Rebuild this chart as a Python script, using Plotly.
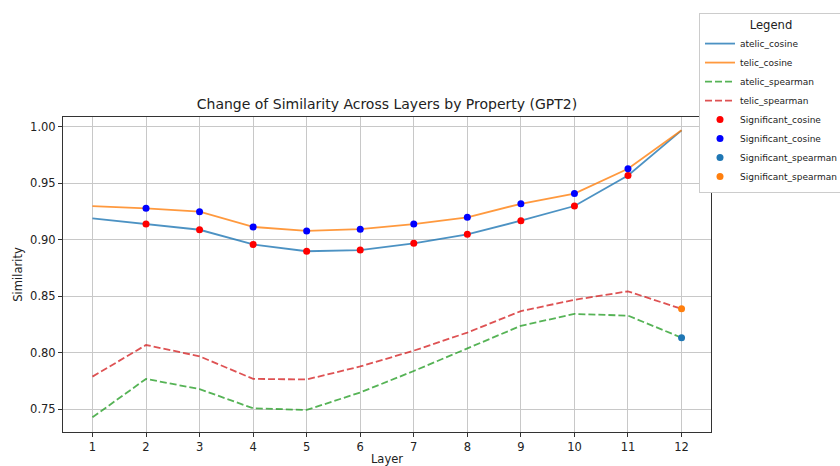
import plotly.graph_objects as go

layers = list(range(1, 13))
atelic_cosine = [0.919, 0.914, 0.909, 0.896, 0.890, 0.891, 0.897, 0.905, 0.917, 0.930, 0.957, 0.997]
telic_cosine = [0.930, 0.928, 0.925, 0.9115, 0.908, 0.9095, 0.914, 0.920, 0.932, 0.941, 0.963, 0.997]
atelic_spearman = [0.743, 0.777, 0.768, 0.751, 0.7495, 0.765, 0.784, 0.804, 0.824, 0.8345, 0.833, 0.8135]
telic_spearman = [0.779, 0.807, 0.797, 0.777, 0.7765, 0.788, 0.802, 0.818, 0.837, 0.847, 0.8545, 0.839]

sig_cosine_layers = [2, 3, 4, 5, 6, 7, 8, 9, 10, 11]
sig_spearman_layers = [12]

FONT = "DejaVu Sans"

def pick(values, sel):
    return [values[layers.index(l)] for l in sel]

fig = go.Figure()
fig.add_trace(go.Scatter(x=layers, y=atelic_cosine, mode="lines", name="atelic_cosine",
                         line=dict(color="rgba(31,119,180,0.8)", width=1.8)))
fig.add_trace(go.Scatter(x=layers, y=telic_cosine, mode="lines", name="telic_cosine",
                         line=dict(color="rgba(255,127,14,0.8)", width=1.8)))
fig.add_trace(go.Scatter(x=layers, y=atelic_spearman, mode="lines", name="atelic_spearman",
                         line=dict(color="rgba(44,160,44,0.8)", width=1.8, dash="7px,3px")))
fig.add_trace(go.Scatter(x=layers, y=telic_spearman, mode="lines", name="telic_spearman",
                         line=dict(color="rgba(214,39,40,0.8)", width=1.8, dash="7px,3px")))
fig.add_trace(go.Scatter(x=sig_cosine_layers, y=pick(atelic_cosine, sig_cosine_layers), mode="markers",
                         name="Significant_cosine", marker=dict(color="red", size=7)))
fig.add_trace(go.Scatter(x=sig_cosine_layers, y=pick(telic_cosine, sig_cosine_layers), mode="markers",
                         name="Significant_cosine", marker=dict(color="blue", size=7)))
fig.add_trace(go.Scatter(x=sig_spearman_layers, y=pick(atelic_spearman, sig_spearman_layers), mode="markers",
                         name="Significant_spearman", marker=dict(color="#1f77b4", size=7)))
fig.add_trace(go.Scatter(x=sig_spearman_layers, y=pick(telic_spearman, sig_spearman_layers), mode="markers",
                         name="Significant_spearman", marker=dict(color="#ff7f0e", size=7)))

axis_common = dict(showgrid=True, gridcolor="#c8c8c8", gridwidth=1, showline=True, linecolor="#333",
                   linewidth=1, mirror=True, ticks="outside", ticklen=4, tickcolor="#333",
                   tickfont=dict(family=FONT, size=11.5, color="#222"), zeroline=False)

fig.update_layout(
    width=840, height=466,
    margin=dict(l=63, r=129, t=117, b=34, autoexpand=False),
    paper_bgcolor="white", plot_bgcolor="white",
    title=dict(text="Change of Similarity Across Layers by Property (GPT2)", x=(63 + 711) / 2 / 840,
               xanchor="center", y=1 - 104 / 466, yanchor="middle",
               font=dict(family=FONT, size=14, color="#222")),
    xaxis=dict(range=[0.45, 12.55], tickvals=layers, title=dict(text="Layer", standoff=10,
               font=dict(family=FONT, size=11.5, color="#222")), **axis_common),
    yaxis=dict(range=[0.730, 1.0088], tickvals=[0.75, 0.80, 0.85, 0.90, 0.95, 1.00], tickformat=".2f",
               title=dict(text="Similarity", standoff=5, font=dict(family=FONT, size=11.5, color="#222")),
               **axis_common),
    legend=dict(xref="container", yref="container", x=699 / 840, y=1 - 13 / 466, xanchor="left", yanchor="top",
                bgcolor="white", bordercolor="#ccc", borderwidth=1,
                font=dict(family=FONT, size=9, color="#222"),
                title=dict(text="Legend", side="top center", font=dict(family=FONT, size=11.6, color="#222")),
                itemwidth=30),
    showlegend=True,
)

fig.write_html("out.html", config={"displayModeBar": False},
               post_script="document.body.style.margin='0';")
